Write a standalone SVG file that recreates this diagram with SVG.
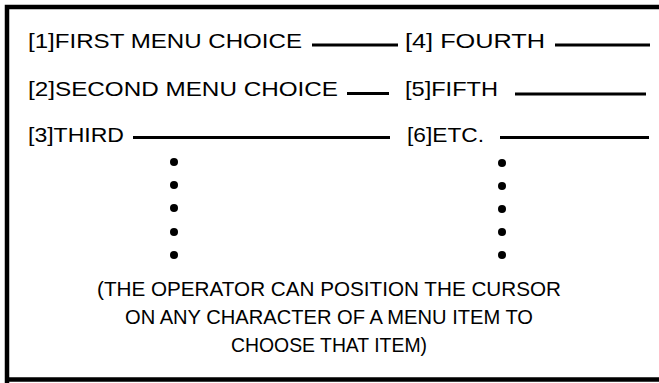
<svg xmlns="http://www.w3.org/2000/svg" width="659" height="383" viewBox="0 0 659 383">
<style>
.t{font-family:"Liberation Sans",Arial,sans-serif;font-size:21px;fill:#000}
.c{text-anchor:middle}
.u{stroke:#000;stroke-width:3;fill:none}
.f{stroke:#000;stroke-width:4.5;fill:none}
</style>
<rect x="0" y="0" width="659" height="383" fill="#fff"/>
<g id="frame">
<path class="f" d="M7,383 V7 H659"/>
<path class="f" d="M7,379.5 H659"/>
</g>
<g id="item1"><text class="t" x="28" y="48" textLength="274" lengthAdjust="spacingAndGlyphs">[1]FIRST MENU CHOICE</text></g>
<g id="item2"><text class="t" x="28" y="96" textLength="310" lengthAdjust="spacingAndGlyphs">[2]SECOND MENU CHOICE</text></g>
<g id="item3"><text class="t" x="28" y="142" textLength="96" lengthAdjust="spacingAndGlyphs">[3]THIRD</text></g>
<g id="item4"><text class="t" x="405" y="48" textLength="140" lengthAdjust="spacingAndGlyphs">[4] FOURTH</text></g>
<g id="item5"><text class="t" x="405" y="96" textLength="93" lengthAdjust="spacingAndGlyphs">[5]FIFTH</text></g>
<g id="item6"><text class="t" x="407" y="142" textLength="77" lengthAdjust="spacingAndGlyphs">[6]ETC.</text></g>
<g id="blanks">
<path class="u" d="M312,45 H398 M555,45 H650 M347,93.5 H389 M515,94 H646 M133,137.5 H390 M500,137.5 H649"/>
</g>
<g id="dots">
<circle cx="174" cy="162" r="4"/><circle cx="174" cy="185" r="4"/><circle cx="174" cy="208" r="4"/><circle cx="174" cy="232" r="4"/><circle cx="174" cy="255" r="4"/>
<circle cx="502" cy="163" r="4"/><circle cx="502" cy="186" r="4"/><circle cx="502" cy="209" r="4"/><circle cx="502" cy="232" r="4"/><circle cx="502" cy="255" r="4"/>
</g>
<g id="note">
<text class="t c" x="329" y="296" textLength="464" lengthAdjust="spacingAndGlyphs">(THE OPERATOR CAN POSITION THE CURSOR</text>
<text class="t c" x="329" y="324" textLength="408" lengthAdjust="spacingAndGlyphs">ON ANY CHARACTER OF A MENU ITEM TO</text>
<text class="t c" x="329" y="352" textLength="196" lengthAdjust="spacingAndGlyphs">CHOOSE THAT ITEM)</text>
</g>
</svg>
